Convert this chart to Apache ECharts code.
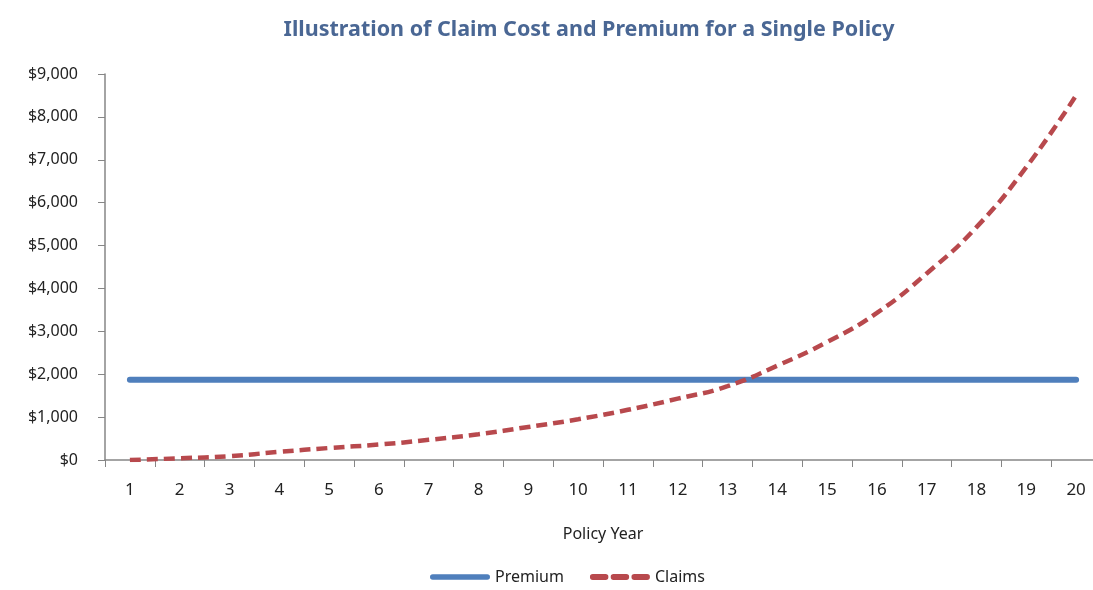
<!DOCTYPE html>
<html>
<head>
<meta charset="utf-8">
<script src="https://cdn.jsdelivr.net/npm/echarts@6/dist/echarts.min.js"></script>
<style>
  html, body { margin: 0; padding: 0; background: #fff; }
  #chart { width: 1093px; height: 590px; }
</style>
</head>
<body>
<div id="chart"></div>
<script>
  // policy years on the x axis
  var years = ['1','2','3','4','5','6','7','8','9','10','11','12','13','14','15','16','17','18','19','20']
  // level premium, same every year
  var premium = [1870,1870,1870,1870,1870,1870,1870,1870,1870,1870,1870,1870,1870,1870,1870,1870,1870,1870,1870,1870]
  // expected claim cost per year
  var claims = [0,40,90,190,280,360,470,600,770,950,1170,1430,1720,2200,2750,3430,4350,5430,6830,8500]

  var fontFam = '"Noto Sans", "Open Sans", sans-serif'

  var chart = echarts.init(document.getElementById('chart'))
  chart.setOption({
    animation: false,
    title: {
      text: 'Illustration of Claim Cost and Premium for a Single Policy',
      left: 584,
      textAlign: 'center',
      top: 14,
      textStyle: {
        color: '#4a6794',
        fontSize: 21.5,
        fontWeight: 'bold',
        fontFamily: fontFam
      }
    },
    grid: {
      left: 105,
      width: 996,
      top: 74,
      bottom: 130,
      outerBoundsMode: 'none'
    },
    legend: {
      bottom: 0,
      left: 425,
      itemGap: 26,
      textStyle: {
        color: '#222',
        fontSize: 16,
        fontFamily: fontFam
      },
      data: [
        {
          name: 'Premium',
          icon: 'path://M3,0h59a3,3 0 0 1 0,6h-59a3,3 0 0 1 0,-6z',
          itemStyle: { color: '#4f7fbc' }
        },
        {
          name: 'Claims',
          icon: 'path://M2,0h11a2.5,2.5 0 0 1 0,5h-11a2.5,2.5 0 0 1 0,-5z M20,0h11a2.5,2.5 0 0 1 0,5h-11a2.5,2.5 0 0 1 0,-5z M38,0h11a2.5,2.5 0 0 1 0,5h-11a2.5,2.5 0 0 1 0,-5z',
          itemStyle: { color: '#b8494d' }
        }
      ],
      itemWidth: 60,
      itemHeight: 6
    },
    xAxis: {
      type: 'category',
      data: years,
      boundaryGap: true,
      name: 'Policy Year',
      nameLocation: 'middle',
      nameGap: 66,
      nameTextStyle: {
        color: '#222',
        fontSize: 16,
        fontFamily: fontFam
      },
      axisLine: { lineStyle: { color: '#868686', width: 1.5 } },
      axisTick: { show: true, length: 7, lineStyle: { color: '#868686' } },
      axisLabel: {
        color: '#222',
        fontSize: 17,
        margin: 22,
        fontFamily: fontFam
      }
    },
    yAxis: {
      type: 'value',
      min: 0,
      max: 9000,
      interval: 1000,
      axisLine: { show: true, lineStyle: { color: '#868686', width: 1.5 } },
      axisTick: { show: true, length: 7, lineStyle: { color: '#868686' } },
      splitLine: { show: false },
      axisLabel: {
        color: '#222',
        fontSize: 16,
        margin: 27,
        fontFamily: fontFam,
        formatter: function (v) {
          return '$' + v.toLocaleString('en-US')
        }
      }
    },
    series: [
      {
        name: 'Premium',
        type: 'line',
        data: premium,
        symbol: 'none',
        itemStyle: { color: '#4f7fbc' },
        lineStyle: { color: '#4f7fbc', width: 6, cap: 'round' }
      },
      {
        name: 'Claims',
        type: 'line',
        data: claims,
        smooth: true,
        symbol: 'none',
        itemStyle: { color: '#b8494d' },
        lineStyle: { color: '#b8494d', width: 4.5, type: [11, 6] }
      }
    ]
  })
</script>
</body>
</html>
